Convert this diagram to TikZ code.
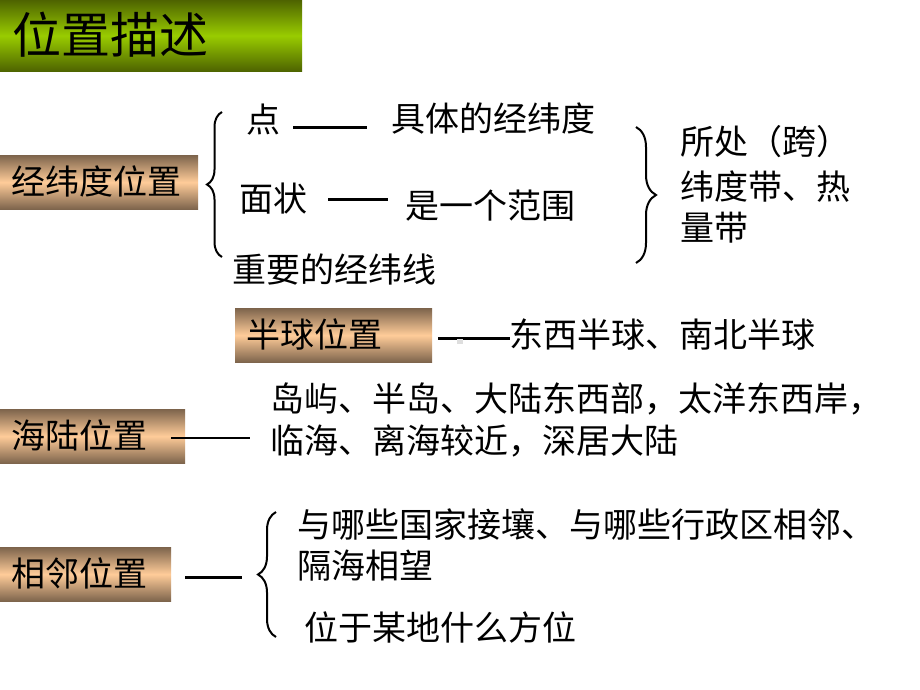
\documentclass[tikz,border=0pt]{standalone}
\usepackage{fontspec}
\newfontfamily\cjk{Noto Sans CJK SC}
\usetikzlibrary{decorations.pathreplacing}
\definecolor{olivedark}{RGB}{78,100,0}
\definecolor{olivelight}{RGB}{153,204,0}
\definecolor{browndark}{RGB}{125,100,76}
\definecolor{peach}{RGB}{255,204,153}
\begin{document}
\begin{tikzpicture}[x=1pt,y=-1pt,
  txt/.style={anchor=west, inner sep=0pt, text height=28pt, text depth=3pt,
    font=\cjk\fontsize{34}{40}\selectfont},
  lblbox/.style={anchor=north west, inner ysep=0pt, inner xsep=11pt, align=left,
    text height=28pt, text depth=3pt, minimum height=54pt,
    font=\cjk\fontsize{34}{40}\selectfont,
    top color=browndark, bottom color=browndark, middle color=peach},
  conn/.style={line width=3pt, black},
  bracestyle/.style={decorate, line width=2pt, black}
]
\useasboundingbox[fill=white] (0,0) rectangle (920,690);

% title
\node[anchor=north west, inner ysep=0pt, inner xsep=12pt, align=left, text width=278pt,
  minimum height=71pt, text height=40pt, text depth=4pt,
  font=\cjk\fontsize{49}{55}\selectfont,
  top color=olivedark, bottom color=olivedark, middle color=olivelight] (title) at (0,0) {位置描述};

% label boxes
\node[lblbox, text width=176pt] (jwd) at (0,155) {经纬度位置};
\node[lblbox, text width=175pt] (bq) at (235,308) {半球位置};
\node[lblbox, text width=163pt] (hl) at (0,409) {海陆位置};
\node[lblbox, text width=149pt] (xl) at (0,547) {相邻位置};

% latitude-longitude group
\node[txt] (dian) at (246,120) {点};
\node[txt] (jutidu) at (391,119) {具体的经纬度};
\node[txt] (mianzhuang) at (239,199) {面状};
\node[txt] (fanwei) at (405,206) {是一个范围};
\node[txt] (zhongyao) at (232,270) {重要的经纬线};
\node[txt] (suochu) at (680,142) {所处（跨）};
\node[txt] (weidudai) at (680,187) {纬度带、热};
\node[txt] (liangdai) at (680,228) {量带};

\coordinate (b1bot) at (222,257);
\coordinate (b1top) at (222,112);
\draw[bracestyle, decoration={brace, amplitude=15pt}] (b1bot) -- (b1top);

\coordinate (b2top) at (636,127);
\coordinate (b2bot) at (636,263);
\draw[bracestyle, decoration={brace, amplitude=20pt}] (b2top) -- (b2bot);

\coordinate (l1a) at (293,127);
\coordinate (l1b) at (367,127);
\draw[conn] (l1a) -- (l1b);
\coordinate (l2a) at (328,199);
\coordinate (l2b) at (388,199);
\draw[conn] (l2a) -- (l2b);

% hemisphere
\node[txt] (dongxi) at (509,335) {东西半球、南北半球};
\coordinate (l3a) at (438,338);
\coordinate (l3b) at (510,338);
\draw[conn] (l3a) -- (l3b);
\fill[black!13] (457,339) rectangle (463,344);

% sea-land
\node[txt] (daoyu) at (270,399) {岛屿、半岛、大陆东西部，太洋东西岸，};
\node[txt] (linhai) at (270,441) {临海、离海较近，深居大陆};
\coordinate (l4a) at (171,438);
\coordinate (l4b) at (250,438);
\draw[conn, line width=2.5pt] (l4a) -- (l4b);

% neighbouring
\node[txt] (yunaxie) at (297,525) {与哪些国家接壤、与哪些行政区相邻、};
\node[txt] (gehai) at (297,566) {隔海相望};
\node[txt] (weiyu) at (304,628) {位于某地什么方位};
\coordinate (l5a) at (185,577);
\coordinate (l5b) at (242,577);
\draw[conn] (l5a) -- (l5b);
\coordinate (b3bot) at (276,637);
\coordinate (b3top) at (276,512);
\draw[bracestyle, decoration={brace, amplitude=18pt}] (b3bot) -- (b3top);
\end{tikzpicture}
\end{document}
